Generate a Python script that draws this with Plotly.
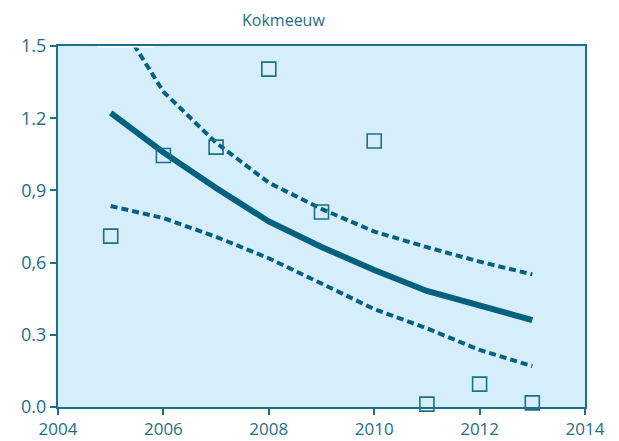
import plotly.graph_objects as go

years = [2005, 2006, 2007, 2008, 2009, 2010, 2011, 2012, 2013]
observed = [0.71, 1.045, 1.08, 1.404, 0.81, 1.105, 0.012, 0.095, 0.017]
trend = [1.222, 1.058, 0.91, 0.771, 0.665, 0.569, 0.482, 0.424, 0.361]
upper = [1.66, 1.31, 1.098, 0.932, 0.823, 0.729, 0.664, 0.604, 0.551]
lower = [0.835, 0.785, 0.707, 0.618, 0.513, 0.407, 0.327, 0.237, 0.17]

y_ticks = [0.0, 0.3, 0.6, 0.9, 1.2, 1.5]
y_labels = ["0.0", "0.3", "0,6", "0,9", "1.2", "1.5"]
x_ticks = [2004, 2006, 2008, 2010, 2012, 2014]

line_col = "#03617f"
axis_col = "#1d6f8a"
text_col = "#1f6d88"

fig = go.Figure()
fig.add_trace(go.Scatter(x=years, y=upper, mode="lines",
                         line=dict(color=line_col, width=4, dash="7px,4px"),
                         showlegend=False))
fig.add_trace(go.Scatter(x=years, y=lower, mode="lines",
                         line=dict(color=line_col, width=4, dash="7px,4px"),
                         showlegend=False))
fig.add_trace(go.Scatter(x=years, y=trend, mode="lines",
                         line=dict(color=line_col, width=6),
                         showlegend=False))
fig.add_trace(go.Scatter(x=years, y=observed, mode="markers",
                         marker=dict(symbol="square-open", size=14,
                                     color=axis_col, line=dict(width=1.6)),
                         showlegend=False, cliponaxis=False))

fig.update_layout(
    width=619, height=441,
    margin=dict(l=50, r=42, t=38, b=42, autoexpand=False),
    paper_bgcolor="white",
    plot_bgcolor="#d6eefa",
    font=dict(family="Open Sans, sans-serif", size=17, color=text_col),
    xaxis=dict(range=[2004, 2014], tickvals=x_ticks, showgrid=False, zeroline=False,
               showline=True, linecolor=axis_col, linewidth=2, mirror=True,
               ticks="outside", ticklen=6, tickcolor=axis_col, tickwidth=1.5,
               automargin=False, tickfont=dict(size=17, color=text_col)),
    yaxis=dict(range=[0, 1.5], tickvals=y_ticks, ticktext=y_labels, showgrid=False,
               zeroline=False, showline=True, linecolor=axis_col, linewidth=2,
               mirror=True, ticks="outside", ticklen=6, tickcolor=axis_col,
               tickwidth=1.5, automargin=False, tickfont=dict(size=18, color=text_col)),
    annotations=[dict(text="Kokmeeuw", x=0.427, y=1.0, xref="paper", yref="paper",
                      yshift=26, showarrow=False, xanchor="center", yanchor="middle",
                      font=dict(size=16, color=text_col))],
    shapes=[dict(type="line", xref="x", yref="y", x0=2004.74, x1=2005.84,
                 y0=1.5, y1=1.5, line=dict(color="white", width=3), layer="above")],
)
fig.write_html("out.html")
